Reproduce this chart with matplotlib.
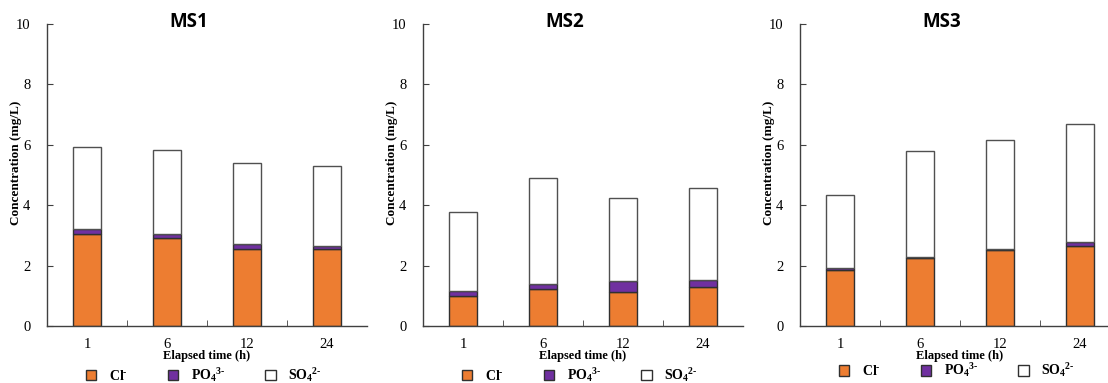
import matplotlib
matplotlib.use("Agg")
import matplotlib.pyplot as plt
from matplotlib.patches import Patch
import numpy as np

plt.rcParams["font.family"] = ["Liberation Serif", "DejaVu Serif"]
plt.rcParams["mathtext.fontset"] = "custom"
plt.rcParams["mathtext.rm"] = "Liberation Serif:bold"
plt.rcParams["mathtext.it"] = "Liberation Serif:bold"
plt.rcParams["mathtext.bf"] = "Liberation Serif:bold"

ORANGE = "#ED7D31"
PURPLE = "#7030A0"
EDGE = "#303030"

times = ["1", "6", "12", "24"]
sites = ["MS1", "MS2", "MS3"]

# 各離子濃度 (mg/L)
cl = {
    "MS1": [3.04, 2.90, 2.56, 2.55],
    "MS2": [0.99, 1.24, 1.12, 1.28],
    "MS3": [1.84, 2.25, 2.51, 2.66],
}
po4 = {
    "MS1": [0.16, 0.15, 0.17, 0.11],
    "MS2": [0.17, 0.16, 0.37, 0.24],
    "MS3": [0.07, 0.03, 0.05, 0.11],
}
so4 = {
    "MS1": [2.72, 2.78, 2.67, 2.64],
    "MS2": [2.60, 3.50, 2.76, 3.04],
    "MS3": [2.44, 3.52, 3.60, 3.93],
}

fig = plt.figure(figsize=(11.08, 3.83), dpi=100)
lefts = [47, 423, 800]
leg_y = [-0.162, -0.162, -0.147]  # MS3 的圖例略高
for site, lx, ly in zip(sites, lefts, leg_y):
    ax = fig.add_axes([lx / 1108, 57 / 383, 320 / 1108, 302 / 383])
    x = np.arange(len(times))
    a = np.array(cl[site])
    b = np.array(po4[site])
    c = np.array(so4[site])
    w = 0.35
    ax.bar(x, a, w, color=ORANGE, edgecolor=EDGE, linewidth=1.0)
    ax.bar(x, b, w, bottom=a, color=PURPLE, edgecolor=EDGE, linewidth=1.0)
    ax.bar(x, c, w, bottom=a + b, color="white", edgecolor="#505050", linewidth=1.0)

    ax.set_xlim(-0.5, 3.5)
    ax.set_ylim(0, 10)
    ax.set_yticks([0, 2, 4, 6, 8, 10])
    ax.set_xticks(x)
    ax.set_xticklabels(times)
    ax.set_xticks([0.5, 1.5, 2.5], minor=True)
    ax.tick_params(axis="x", which="major", length=0, pad=9, labelsize=10.5)
    ax.tick_params(axis="x", which="minor", direction="in", length=4, color="#404040")
    ax.tick_params(axis="y", direction="in", length=4, pad=12, labelsize=10.5, color="#404040")
    for s in ("top", "right"):
        ax.spines[s].set_visible(False)
    for s in ("left", "bottom"):
        ax.spines[s].set_color("#404040")
        ax.spines[s].set_linewidth(1.0)

    ax.set_xlabel("Elapsed time (h)", fontsize=9, fontweight="bold", labelpad=-1)
    ax.set_ylabel("Concentration (mg/L)", fontsize=9.5, fontweight="bold")
    ax.yaxis.set_label_coords(-0.078, 0.54)

    fig.text((lx + 142) / 1108, 1 - 22 / 383, site, ha="center", va="center",
             fontsize=13.5, fontweight="bold", family=["Open Sans", "DejaVu Sans"])

    handles = [
        Patch(facecolor=ORANGE, edgecolor=EDGE, label="Cl$^{‐}$"),
        Patch(facecolor=PURPLE, edgecolor=EDGE, label="PO$_4$$^{3‐}$"),
        Patch(facecolor="white", edgecolor=EDGE, label="SO$_4$$^{2‐}$"),
    ]
    ax.legend(handles=handles, ncol=3, loc="center",
              bbox_to_anchor=(0.49, ly), frameon=False,
              handlelength=0.75, handleheight=0.75, handletextpad=0.9,
              columnspacing=2.9, prop={"size": 10, "weight": "bold"})

fig.savefig("out.png", dpi=100, facecolor="white")
